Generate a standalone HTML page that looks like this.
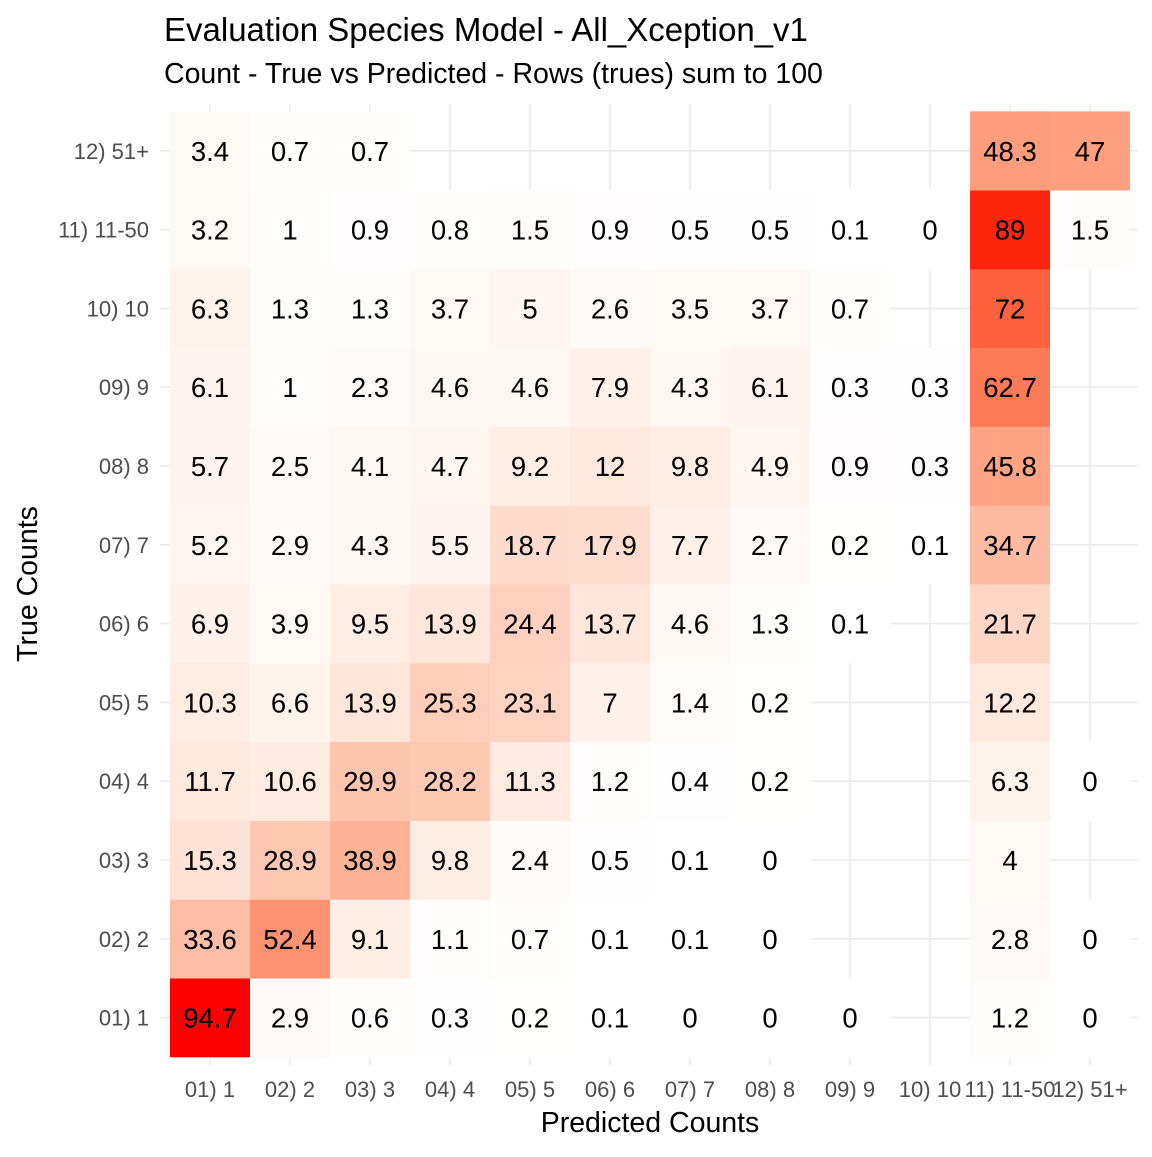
<!DOCTYPE html>
<html><head><meta charset="utf-8"><style>
body{margin:0;background:#fff;}
svg text{font-family:"Liberation Sans",Arial,sans-serif;}
</style></head><body>
<svg id="chart" width="1152" height="1152">
<text x="164" y="41" font-size="33" fill="#000">Evaluation Species Model - All_Xception_v1</text>
<text x="164" y="83" font-size="28.5" fill="#000">Count - True vs Predicted - Rows (trues) sum to 100</text>
<g id="grid"></g><g id="cells"></g><g id="labels"></g><g id="ticks"></g>
<text x="650" y="1132" font-size="28.5" text-anchor="middle">Predicted Counts</text>
<text transform="translate(37,584) rotate(-90)" font-size="28.5" text-anchor="middle">True Counts</text>
</svg>
<script>
const categories=["01) 1","02) 2","03) 3","04) 4","05) 5","06) 6","07) 7","08) 8","09) 9","10) 10","11) 11-50","12) 51+"];
const row01=[94.7,2.9,0.6,0.3,0.2,0.1,0,0,0,null,1.2,0];
const row02=[33.6,52.4,9.1,1.1,0.7,0.1,0.1,0,null,null,2.8,0];
const row03=[15.3,28.9,38.9,9.8,2.4,0.5,0.1,0,null,null,4,null];
const row04=[11.7,10.6,29.9,28.2,11.3,1.2,0.4,0.2,null,null,6.3,0];
const row05=[10.3,6.6,13.9,25.3,23.1,7,1.4,0.2,null,null,12.2,null];
const row06=[6.9,3.9,9.5,13.9,24.4,13.7,4.6,1.3,0.1,null,21.7,null];
const row07=[5.2,2.9,4.3,5.5,18.7,17.9,7.7,2.7,0.2,0.1,34.7,null];
const row08=[5.7,2.5,4.1,4.7,9.2,12,9.8,4.9,0.9,0.3,45.8,null];
const row09=[6.1,1,2.3,4.6,4.6,7.9,4.3,6.1,0.3,0.3,62.7,null];
const row10=[6.3,1.3,1.3,3.7,5,2.6,3.5,3.7,0.7,null,72,null];
const row11=[3.2,1,0.9,0.8,1.5,0.9,0.5,0.5,0.1,0,89,1.5];
const row12=[3.4,0.7,0.7,null,null,null,null,null,null,null,48.3,47];
const rows=[row01,row02,row03,row04,row05,row06,row07,row08,row09,row10,row11,row12];

const NS="http://www.w3.org/2000/svg";
const X0=170,CW=80,YB=1057,CH=78.8;
function xc(i){return X0+CW*(i+0.5);}
function yc(j){return YB-CH*(j+0.5);}
let maxV=0;rows.forEach(r=>r.forEach(v=>{if(v!=null&&v>maxV)maxV=v;}));
function color(v){const t=v/maxV;const r=Math.round(255-3*t);const g=Math.round(255*Math.pow(1-t,0.68));const b=Math.round(255*Math.pow(1-t,1));return `rgb(${r},${g},${b})`;}
function mk(tag,attrs,parent){const e=document.createElementNS(NS,tag);for(const k in attrs)e.setAttribute(k,attrs[k]);parent.appendChild(e);return e;}
const grid=document.getElementById('grid'),cells=document.getElementById('cells'),labels=document.getElementById('labels'),ticks=document.getElementById('ticks');
categories.forEach((c,i)=>{
  const v=mk('line',{x1:xc(i),x2:xc(i),y1:104,y2:1065,stroke:'#ebebeb','stroke-width':1.6},grid);
  
  
  const h=mk('line',{x1:160,x2:1138,y1:yc(i),y2:yc(i),stroke:'#ebebeb','stroke-width':1.6},grid);
  
  
  const tx=mk('text',{x:xc(i),y:1097,'font-size':22,fill:'#4d4d4d','text-anchor':'middle'},ticks);
  tx.textContent=c;
  
  
  const ty=mk('text',{x:149,y:yc(i)+8,'font-size':22,fill:'#4d4d4d','text-anchor':'end'},ticks);
  ty.textContent=c;
  
  
});
rows.forEach((r,j)=>r.forEach((v,i)=>{
  if(v==null)return;
  const rc=mk('rect',{x:X0+CW*i,y:YB-CH*(j+1),width:CW,height:CH+0.3,fill:color(v)},cells);
  
  
  const t=mk('text',{x:xc(i),y:yc(j)+10,'font-size':27.5,fill:'#000','text-anchor':'middle'},labels);
  t.textContent=String(v);
  
  
}));
</script>
</body></html>
